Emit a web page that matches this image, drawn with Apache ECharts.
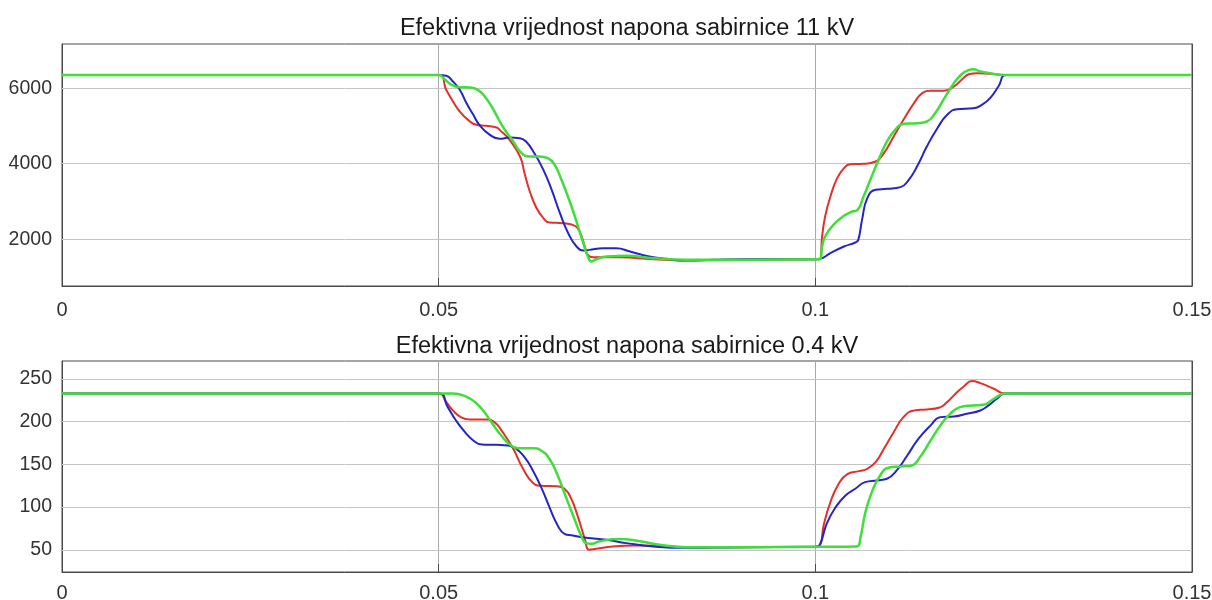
<!DOCTYPE html>
<html>
<head>
<meta charset="utf-8">
<script src="https://cdn.jsdelivr.net/npm/echarts@6/dist/echarts.min.js"></script>
<style>
html,body{margin:0;padding:0;background:#fff;}
#c{width:1212px;height:600px;}
</style>
</head>
<body>
<div id="c"></div>
<script>
// ---------- data ----------
const titleTop = 'Efektivna vrijednost napona sabirnice 11 kV';
const titleBottom = 'Efektivna vrijednost napona sabirnice 0.4 kV';
const topYTicks = [2000, 4000, 6000];
const bottomYTicks = [50, 100, 150, 200, 250];

// 11 kV bus
const topRedT = [0, 0.05, 0.0510, 0.0519, 0.0528, 0.0539, 0.0550, 0.0563, 0.0577, 0.0581, 0.0594, 0.0608, 0.0614, 0.0621, 0.0630, 0.0639, 0.0647, 0.0665, 0.0678, 0.0687, 0.0694, 0.0698, 0.0705, 0.0740, 0.0785, 0.0829, 0.0900, 0.1000, 0.1006, 0.1009, 0.1013, 0.1020, 0.1029, 0.1038, 0.1046, 0.1064, 0.1080, 0.1091, 0.1104, 0.1117, 0.1131, 0.1142, 0.1153, 0.1170, 0.1184, 0.1195, 0.1204, 0.1215, 0.1232, 0.1252, 0.15];
const topRedV = [6350, 6350, 5956, 5647, 5382, 5161, 5029, 5002, 4960, 4896, 4631, 4190, 3748, 3263, 2821, 2556, 2441, 2424, 2380, 2203, 1806, 1585, 1523, 1520, 1470, 1440, 1450, 1470, 1470, 2070, 2600, 3130, 3616, 3881, 3987, 3996, 4057, 4278, 4720, 5161, 5603, 5868, 5929, 5929, 6044, 6238, 6371, 6397, 6380, 6350, 6350];

const topBlueT = [0, 0.05, 0.0510, 0.0519, 0.0528, 0.0537, 0.0546, 0.0554, 0.0568, 0.0581, 0.0594, 0.0608, 0.0616, 0.0627, 0.0639, 0.0650, 0.0661, 0.0672, 0.0683, 0.0692, 0.0700, 0.0718, 0.0736, 0.0754, 0.0776, 0.0802, 0.0829, 0.0864, 0.0900, 0.1000, 0.1006, 0.1020, 0.1038, 0.1053, 0.1057, 0.1062, 0.1069, 0.1080, 0.1095, 0.1113, 0.1124, 0.1135, 0.1148, 0.1162, 0.1175, 0.1188, 0.1210, 0.1221, 0.1232, 0.1243, 0.1254, 0.15];
const topBlueV = [6350, 6350, 6327, 6177, 5956, 5603, 5294, 5029, 4764, 4658, 4693, 4675, 4587, 4278, 3837, 3307, 2689, 2159, 1806, 1700, 1717, 1762, 1762, 1673, 1558, 1479, 1435, 1453, 1470, 1470, 1480, 1629, 1806, 1912, 1982, 2512, 3086, 3307, 3333, 3378, 3572, 3925, 4455, 4940, 5294, 5444, 5470, 5558, 5735, 6044, 6350, 6350];

const topGreenT = [0, 0.05, 0.0508, 0.0517, 0.0528, 0.0541, 0.0552, 0.0563, 0.0574, 0.0585, 0.0599, 0.0610, 0.0621, 0.0634, 0.0645, 0.0654, 0.0663, 0.0674, 0.0683, 0.0692, 0.0698, 0.0703, 0.0709, 0.0723, 0.0749, 0.0785, 0.0829, 0.0900, 0.1000, 0.1006, 0.1009, 0.1013, 0.1024, 0.1038, 0.1049, 0.1056, 0.1064, 0.1073, 0.1084, 0.1095, 0.1106, 0.1117, 0.1135, 0.1148, 0.1159, 0.1170, 0.1181, 0.1192, 0.1204, 0.1210, 0.1219, 0.1232, 0.1252, 0.15];
const topGreenV = [6350, 6350, 6238, 6088, 6026, 6018, 5956, 5735, 5382, 4985, 4587, 4278, 4190, 4190, 4146, 3969, 3572, 2998, 2468, 1894, 1541, 1408, 1470, 1541, 1558, 1497, 1453, 1453, 1470, 1470, 1806, 2071, 2380, 2618, 2733, 2777, 3130, 3572, 4102, 4587, 4896, 5055, 5073, 5117, 5338, 5691, 6044, 6327, 6486, 6503, 6442, 6397, 6350, 6350];

// 0.4 kV bus
const botRedT = [0, 0.05, 0.0510, 0.0519, 0.0530, 0.0541, 0.0563, 0.0574, 0.0585, 0.0599, 0.0612, 0.0625, 0.0636, 0.0656, 0.0667, 0.0676, 0.0685, 0.0694, 0.0700, 0.0709, 0.0731, 0.0762, 0.0793, 0.0829, 0.0900, 0.1000, 0.1006, 0.1011, 0.1020, 0.1031, 0.1042, 0.1058, 0.1069, 0.1080, 0.1091, 0.1104, 0.1117, 0.1131, 0.1148, 0.1164, 0.1175, 0.1186, 0.1197, 0.1208, 0.1219, 0.1237, 0.1252, 0.15];
const botRedV = [233, 233, 223, 213, 205, 202.6, 202.6, 199.4, 187.7, 168.2, 144.8, 128.4, 124.9, 124.5, 121.4, 109.7, 88.2, 62.9, 50, 51.1, 53.9, 55, 54.7, 53.1, 53.1, 53.5, 55, 78.5, 105.8, 127.3, 138.2, 142.1, 144.8, 152.6, 168.2, 187.7, 205.3, 213.1, 214.3, 216.2, 222.9, 232.6, 241.2, 247.5, 245.1, 238.5, 233, 233];

const botBlueT = [0, 0.05, 0.0512, 0.0523, 0.0535, 0.0546, 0.0557, 0.0577, 0.0592, 0.0603, 0.0614, 0.0625, 0.0636, 0.0647, 0.0658, 0.0667, 0.0678, 0.0696, 0.0723, 0.0749, 0.0785, 0.0829, 0.0900, 0.1000, 0.1006, 0.1015, 0.1027, 0.1040, 0.1053, 0.1066, 0.1082, 0.1095, 0.1108, 0.1122, 0.1137, 0.1153, 0.1166, 0.1184, 0.1201, 0.1219, 0.1230, 0.1241, 0.1252, 0.15];
const botBlueV = [233, 233, 217, 201.4, 187.7, 178, 173.3, 172.9, 172.1, 168.2, 158.5, 142.9, 123.4, 100, 78.5, 68.7, 66.8, 64, 61.7, 57.8, 53.9, 52.3, 53.1, 53.5, 56, 80.4, 99.9, 113.6, 121.4, 129.2, 131.2, 133.1, 142.9, 160.4, 180, 195.6, 205.3, 206.1, 209.2, 213.1, 219, 226.8, 233, 233];

const botGreenT = [0, 0.05, 0.0519, 0.0537, 0.0548, 0.0559, 0.0570, 0.0583, 0.0596, 0.0608, 0.0625, 0.0636, 0.0647, 0.0658, 0.0669, 0.0681, 0.0689, 0.0696, 0.0703, 0.0714, 0.0740, 0.0767, 0.0793, 0.0829, 0.0900, 0.1000, 0.1055, 0.1060, 0.1066, 0.1075, 0.1086, 0.1097, 0.1113, 0.1128, 0.1139, 0.1153, 0.1166, 0.1179, 0.1192, 0.1208, 0.1223, 0.1237, 0.1252, 0.15];
const botGreenV = [233, 233, 233, 229, 223, 213, 199.4, 183.8, 172.1, 169, 169, 166.3, 156.5, 137, 111.6, 84.3, 66.8, 57.8, 57, 60.1, 62.5, 60.1, 55.8, 53.1, 53.1, 53.5, 53.9, 64.8, 92.1, 117.5, 137, 146, 147.6, 148.7, 158.5, 178, 195.6, 209.2, 217, 219, 219.7, 226.8, 233, 233];

// ---------- chart ----------
const RED = '#e2302a', BLUE = '#2424c8', GREEN = '#3fde3a';
const FONT = 'Liberation Sans, Arial, sans-serif';
const zip = (t, v) => t.map((x, i) => [x, v[i]]);

const chart = echarts.init(document.getElementById('c'), null, {renderer: 'canvas'});

function xAxisCfg(gi, margin) {
  return {
    type: 'value', gridIndex: gi, min: 0, max: 0.15, interval: 0.05,
    axisLine: {show: true, lineStyle: {color: '#4a4a4a', width: 1}},
    axisTick: {show: true, inside: true, length: 8, lineStyle: {color: '#4a4a4a'}},
    axisLabel: {color: '#333', fontSize: 20, fontFamily: FONT, margin: margin,
                formatter: v => String(Math.round(v * 1000) / 1000)},
    splitLine: {show: true, lineStyle: {color: '#a9a9a9', width: 1}}
  };
}
function yAxisCfg(gi, min, max, ticks) {
  return {
    type: 'value', gridIndex: gi, min: min, max: max,
    axisLine: {show: true, lineStyle: {color: '#4a4a4a', width: 1}},
    axisTick: {show: true, inside: true, length: 9, customValues: ticks, lineStyle: {color: '#4a4a4a'}},
    axisLabel: {color: '#333', fontSize: 19.5, fontFamily: FONT, margin: 10, customValues: ticks,
                formatter: v => String(v)},
    splitLine: {show: false}
  };
}
function yAxisRight(gi, min, max, ticks) {
  return {
    type: 'value', gridIndex: gi, min: min, max: max, position: 'right',
    axisLine: {show: true, lineStyle: {color: '#4a4a4a', width: 1}},
    axisTick: {show: true, inside: true, length: 9, customValues: ticks, lineStyle: {color: '#4a4a4a'}},
    axisLabel: {show: false},
    splitLine: {show: false}
  };
}
function lineSeries(name, color, xi, yi, data, grid, width) {
  const s = {
    name: name, type: 'line', xAxisIndex: xi, yAxisIndex: yi, data: data,
    showSymbol: false, symbol: 'none', smooth: 0.5,
    lineStyle: {color: color, width: width || 2}, itemStyle: {color: color},
    animation: false, silent: true
  };
  if (grid) {
    s.markLine = {
      silent: true, symbol: 'none', z: 1, animation: false,
      label: {show: false},
      lineStyle: {color: '#c4c4c4', width: 1, type: 'solid'},
      data: grid.map(v => ({yAxis: v}))
    };
  }
  return s;
}

chart.setOption({
  backgroundColor: '#ffffff',
  animation: false,
  title: [
    {text: titleTop, left: 622, top: 12, textAlign: 'center',
     textStyle: {fontFamily: FONT, fontSize: 23.5, fontWeight: 'normal', color: '#1a1a1a'}},
    {text: titleBottom, left: 622, top: 330, textAlign: 'center',
     textStyle: {fontFamily: FONT, fontSize: 23.5, fontWeight: 'normal', color: '#1a1a1a'}}
  ],
  grid: [
    {left: 62, top: 44, width: 1130, height: 242, show: true, borderColor: '#4a4a4a', borderWidth: 1,
     backgroundColor: '#fff', containLabel: false, outerBoundsMode: 'none'},
    {left: 62, top: 361, width: 1130, height: 211, show: true, borderColor: '#4a4a4a', borderWidth: 1,
     backgroundColor: '#fff', containLabel: false, outerBoundsMode: 'none'}
  ],
  xAxis: [xAxisCfg(0, 14), xAxisCfg(1, 11)],
  yAxis: [
    yAxisCfg(0, 760, 7170, topYTicks),
    yAxisCfg(1, 24, 271, bottomYTicks),
    yAxisRight(0, 760, 7170, topYTicks),
    yAxisRight(1, 24, 271, bottomYTicks)
  ],
  series: [
    lineSeries('red11', RED, 0, 0, zip(topRedT, topRedV), topYTicks),
    lineSeries('blue11', BLUE, 0, 0, zip(topBlueT, topBlueV)),
    lineSeries('green11', GREEN, 0, 0, zip(topGreenT, topGreenV), null, 2.5),
    lineSeries('red04', RED, 1, 1, zip(botRedT, botRedV), bottomYTicks),
    lineSeries('blue04', BLUE, 1, 1, zip(botBlueT, botBlueV)),
    lineSeries('green04', GREEN, 1, 1, zip(botGreenT, botGreenV), null, 2.5)
  ]
});
</script>
</body>
</html>
